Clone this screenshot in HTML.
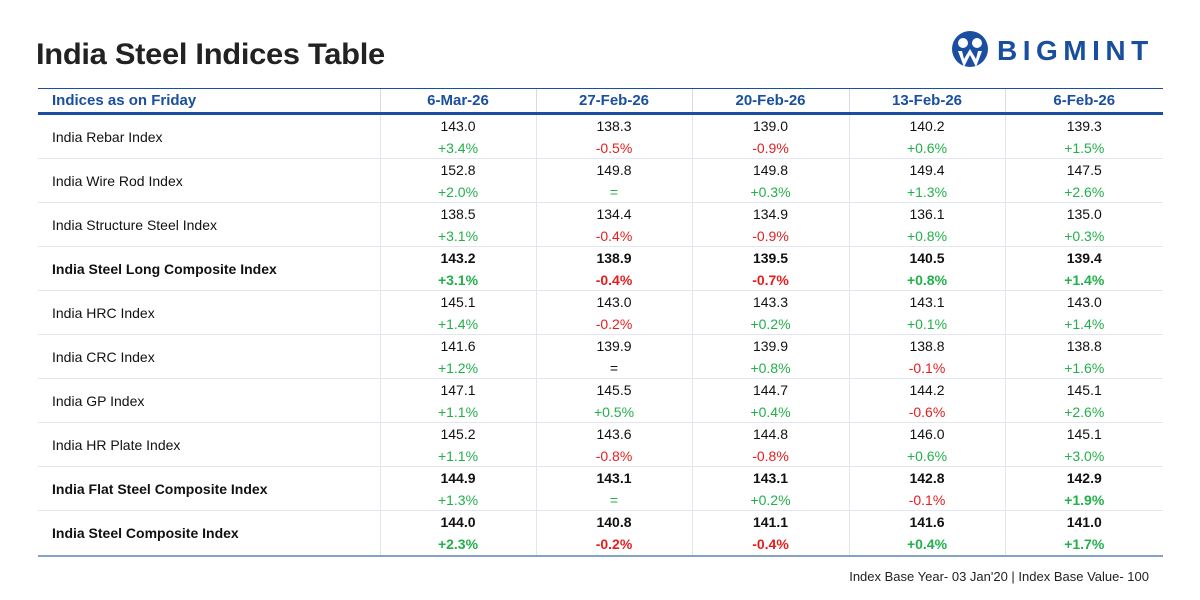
<!DOCTYPE html>
<html><head><meta charset="utf-8"><style>
body{margin:0;width:1200px;height:600px;background:#fff;font-family:"Liberation Sans",sans-serif;position:relative;overflow:hidden}
h1{position:absolute;left:36px;top:38px;margin:0;font-size:30px;font-weight:bold;color:#222;letter-spacing:-0.3px;transform:scaleX(1.03);transform-origin:left}
.logo{position:absolute;left:950px;top:29px;height:40px}
.logo .t{position:absolute;left:47px;top:6px;font-size:28px;font-weight:bold;color:#1a4fa0;letter-spacing:5.5px}
table{position:absolute;left:38px;top:88px;width:1125px;border-collapse:collapse;table-layout:fixed}
th{height:23px;font-size:15px;color:#1a4fa0;font-weight:bold;border-top:1px solid #1a4fa0;border-bottom:3px solid #1a4fa0;border-left:1px solid #d5dbe6;padding:0}
th:first-child{text-align:left;padding-left:14px;border-left:none}
td{height:22px;padding:0;font-size:14px;text-align:center;color:#111;border-left:1px solid #e3e6ec}
tr.b td{height:21px}
td.n{text-align:left;padding-left:14px;border-left:none;border-bottom:1px solid #e3e6ec}
tr.b td{border-bottom:1px solid #e3e6ec}
.g{color:#22b04a}.r{color:#e41e1e}
.B td{font-weight:bold}
tr.last td{border-bottom:2px solid #86a2c4}
.foot{position:absolute;right:51px;top:569px;font-size:13px;color:#222}
</style></head><body>
<h1>India Steel Indices Table</h1>
<div class="logo"><svg width="40" height="40" viewBox="0 0 40 40"><circle cx="20" cy="20" r="18" fill="#1a4fa0"/><circle cx="13" cy="14" r="5" fill="#fff"/><circle cx="27" cy="14" r="5" fill="#fff"/><path d="M8 22 L14 38 L20 26 L26 38 L32 22 L28 22 L26 30 L20 20 L14 30 L12 22Z" fill="#fff"/></svg><span class="t">BIGMINT</span></div>
<table>
<colgroup><col style="width:342px"><col style="width:156px"><col style="width:156px"><col style="width:157px"><col style="width:156px"><col style="width:158px"></colgroup>
<tr><th>Indices as on Friday</th><th>6-Mar-26</th><th>27-Feb-26</th><th>20-Feb-26</th><th>13-Feb-26</th><th>6-Feb-26</th></tr>
<tr><td class="n" rowspan="2">India Rebar Index</td><td>143.0</td><td>138.3</td><td>139.0</td><td>140.2</td><td>139.3</td></tr>
<tr class="b"><td class="g">+3.4%</td><td class="r">-0.5%</td><td class="r">-0.9%</td><td class="g">+0.6%</td><td class="g">+1.5%</td></tr>
<tr><td class="n" rowspan="2">India Wire Rod Index</td><td>152.8</td><td>149.8</td><td>149.8</td><td>149.4</td><td>147.5</td></tr>
<tr class="b"><td class="g">+2.0%</td><td class="g">=</td><td class="g">+0.3%</td><td class="g">+1.3%</td><td class="g">+2.6%</td></tr>
<tr><td class="n" rowspan="2">India Structure Steel Index</td><td>138.5</td><td>134.4</td><td>134.9</td><td>136.1</td><td>135.0</td></tr>
<tr class="b"><td class="g">+3.1%</td><td class="r">-0.4%</td><td class="r">-0.9%</td><td class="g">+0.8%</td><td class="g">+0.3%</td></tr>
<tr class="B"><td class="n" rowspan="2">India Steel Long Composite Index</td><td>143.2</td><td>138.9</td><td>139.5</td><td>140.5</td><td>139.4</td></tr>
<tr class="b B"><td class="g">+3.1%</td><td class="r">-0.4%</td><td class="r">-0.7%</td><td class="g">+0.8%</td><td class="g">+1.4%</td></tr>
<tr><td class="n" rowspan="2">India HRC Index</td><td>145.1</td><td>143.0</td><td>143.3</td><td>143.1</td><td>143.0</td></tr>
<tr class="b"><td class="g">+1.4%</td><td class="r">-0.2%</td><td class="g">+0.2%</td><td class="g">+0.1%</td><td class="g">+1.4%</td></tr>
<tr><td class="n" rowspan="2">India CRC Index</td><td>141.6</td><td>139.9</td><td>139.9</td><td>138.8</td><td>138.8</td></tr>
<tr class="b"><td class="g">+1.2%</td><td>=</td><td class="g">+0.8%</td><td class="r">-0.1%</td><td class="g">+1.6%</td></tr>
<tr><td class="n" rowspan="2">India GP Index</td><td>147.1</td><td>145.5</td><td>144.7</td><td>144.2</td><td>145.1</td></tr>
<tr class="b"><td class="g">+1.1%</td><td class="g">+0.5%</td><td class="g">+0.4%</td><td class="r">-0.6%</td><td class="g">+2.6%</td></tr>
<tr><td class="n" rowspan="2">India HR Plate Index</td><td>145.2</td><td>143.6</td><td>144.8</td><td>146.0</td><td>145.1</td></tr>
<tr class="b"><td class="g">+1.1%</td><td class="r">-0.8%</td><td class="r">-0.8%</td><td class="g">+0.6%</td><td class="g">+3.0%</td></tr>
<tr class="B"><td class="n" rowspan="2">India Flat Steel Composite Index</td><td>144.9</td><td>143.1</td><td>143.1</td><td>142.8</td><td>142.9</td></tr>
<tr class="b"><td class="g">+1.3%</td><td class="g">=</td><td class="g">+0.2%</td><td class="r">-0.1%</td><td class="g" style="font-weight:bold">+1.9%</td></tr>
<tr class="B"><td class="n" rowspan="2" style="border-bottom:2px solid #86a2c4">India Steel Composite Index</td><td>144.0</td><td>140.8</td><td>141.1</td><td>141.6</td><td>141.0</td></tr>
<tr class="last B"><td class="g">+2.3%</td><td class="r">-0.2%</td><td class="r">-0.4%</td><td class="g">+0.4%</td><td class="g">+1.7%</td></tr>
</table>
<div class="foot">Index Base Year- 03 Jan'20 | Index Base Value- 100</div>
</body></html>
